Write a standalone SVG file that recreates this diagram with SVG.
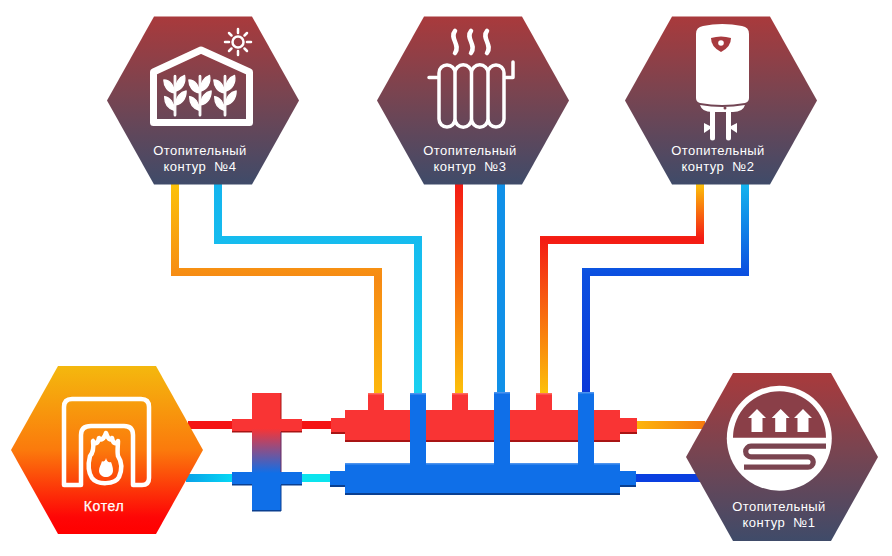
<svg xmlns="http://www.w3.org/2000/svg" width="892" height="556" viewBox="0 0 892 556">
<style>
.t{font-family:"Liberation Sans",Arial,sans-serif;font-size:13px;fill:#fff;text-anchor:middle;letter-spacing:.45px}
.w{fill:none;stroke:#fff;stroke-linejoin:round;stroke-linecap:round}
.r{fill:#f93434}.b{fill:#0f6fe8}
.rs{fill:#a81414}.bs{fill:#0a3f90}.rh{fill:#ff6a5e}.bh{fill:#4c93ee}
.p{fill:none;stroke-width:8}
</style>
<defs>
<linearGradient id="hex" x1="0" y1="0" x2="0" y2="1"><stop offset="0" stop-color="#a93a3c"/><stop offset=".45" stop-color="#7a4450"/><stop offset="1" stop-color="#3f4b69"/></linearGradient>
<linearGradient id="fire" x1="0" y1="0" x2="0" y2="1"><stop offset="0" stop-color="#f4b80e"/><stop offset=".5" stop-color="#fb7a0c"/><stop offset=".9" stop-color="#fe0606"/><stop offset="1" stop-color="#ff0000"/></linearGradient>
<linearGradient id="cross" x1="0" y1="393" x2="0" y2="511" gradientUnits="userSpaceOnUse"><stop offset=".3" stop-color="#f93434"/><stop offset=".68" stop-color="#0f6fe8"/></linearGradient>
<linearGradient id="g4a" gradientUnits="userSpaceOnUse" x1="0" y1="184" x2="0" y2="395"><stop offset="0" stop-color="#fcc20a"/><stop offset=".45" stop-color="#f68a14"/><stop offset="1" stop-color="#fdb80c"/></linearGradient>
<linearGradient id="g4b" gradientUnits="userSpaceOnUse" x1="0" y1="184" x2="0" y2="395"><stop offset="0" stop-color="#14b4ee"/><stop offset="1" stop-color="#1ad0f0"/></linearGradient>
<linearGradient id="g3a" gradientUnits="userSpaceOnUse" x1="0" y1="184" x2="0" y2="395"><stop offset="0" stop-color="#f41a14"/><stop offset="1" stop-color="#fcc20a"/></linearGradient>
<linearGradient id="g3b" gradientUnits="userSpaceOnUse" x1="0" y1="184" x2="0" y2="395"><stop offset="0" stop-color="#1090e8"/><stop offset="1" stop-color="#1090e8"/></linearGradient>
<linearGradient id="g2a" gradientUnits="userSpaceOnUse" x1="0" y1="184" x2="0" y2="395"><stop offset="0" stop-color="#fcc20a"/><stop offset=".26" stop-color="#f41a14"/><stop offset="1" stop-color="#fcc20a"/></linearGradient>
<linearGradient id="g2b" gradientUnits="userSpaceOnUse" x1="0" y1="184" x2="0" y2="395"><stop offset="0" stop-color="#14b4ee"/><stop offset=".42" stop-color="#0c50e0"/><stop offset="1" stop-color="#0a38d8"/></linearGradient>
<linearGradient id="gor" gradientUnits="userSpaceOnUse" x1="637" y1="0" x2="705" y2="0"><stop offset="0" stop-color="#fdb50c"/><stop offset="1" stop-color="#f57a10"/></linearGradient>
<linearGradient id="gcy" gradientUnits="userSpaceOnUse" x1="186" y1="0" x2="232" y2="0"><stop offset="0" stop-color="#0aa0e8"/><stop offset="1" stop-color="#06d8f4"/></linearGradient>
<path id="hx" d="M-49-84H49L96 0 49 84H-49L-96 0Z"/>
<g id="plant" fill="#fff" stroke="#fff" stroke-width="1.500" stroke-linejoin="round"><rect x="-1" y="-30" width="2" height="44" rx="1"/><path d="M1-13C0-22 5-28 12-30 14-22 9-15 1-13Z"/><path d="M-1-11C-9-12-14-18-14-25-6-25-1-19-1-11Z"/><path d="M1 2C1-7 7-12 14-13 14-5 9 1 1 2Z"/><path d="M-1 8C-9 6-13 0-13-7-6-6-1 0-1 8Z"/></g>
<path id="ar" d="M0-11.500 9-2.500H5.500V11.500H-5.500V-2.500H-9Z" fill="#fff"/>
<path id="st" d="M0 0C-6 7 6 14 0 22" fill="none" stroke="#fff" stroke-width="4.500" stroke-linecap="round"/>
</defs>
<g id="connectors">
<path class="p" stroke="url(#g4a)" d="M175 184V272H378V395"/>
<path class="p" stroke="url(#g4b)" d="M218 184V240H418V395"/>
<path class="p" stroke="url(#g3a)" d="M459 184V395"/>
<path class="p" stroke="url(#g3b)" d="M501 184V395"/>
<path class="p" stroke="url(#g2a)" d="M700 184V240H544V395"/>
<path class="p" stroke="url(#g2b)" d="M745 184V272H586V395"/>
<path class="p" stroke="#f41414" d="M188 425H232M302 425H331"/>
<path class="p" stroke="url(#gcy)" d="M186 478H232"/>
<path class="p" stroke="#0ce4ee" d="M302 478H330"/>
<path class="p" stroke="url(#gor)" d="M637 425H705"/>
<path class="p" stroke="#0a3fe0" d="M636 478H700"/>
</g>
<g id="cross">
<rect x="232" y="419" width="70" height="13" fill="#f93434"/><rect x="232" y="431" width="70" height="1.500" fill="#a81414"/>
<rect x="232" y="472" width="70" height="13" fill="#0f6fe8"/><rect x="232" y="484" width="70" height="1.500" fill="#0a3f90"/>
<rect x="252" y="393" width="29" height="118" fill="url(#cross)"/>
<rect x="280.500" y="393" width="1" height="26" fill="#a81414"/><rect x="280.500" y="432" width="1" height="40" fill="#6a2a60"/><rect x="280.500" y="485" width="1" height="26" fill="#0a3f90"/>
<rect x="252" y="510" width="29" height="1.500" fill="#0a3f90"/>
</g>
<g id="manifold-hot">
<rect class="r" x="331" y="418" width="20" height="15"/><rect class="rs" x="331" y="432" width="20" height="2"/>
<rect class="r" x="615" y="418" width="22" height="15"/><rect class="rs" x="615" y="432" width="22" height="2"/>
<rect class="r" x="368" y="393" width="16" height="20"/><rect class="r" x="452" y="393" width="16" height="20"/><rect class="r" x="536" y="393" width="16" height="20"/>
<rect class="rh" x="368" y="393" width="16" height="1.500"/><rect class="rh" x="452" y="393" width="16" height="1.500"/><rect class="rh" x="536" y="393" width="16" height="1.500"/>
<rect class="r" x="345" y="410" width="275" height="31"/><rect class="rs" x="345" y="440" width="275" height="2"/>
</g>
<g id="manifold-cold">
<rect class="b" x="330" y="471" width="20" height="15"/><rect class="bs" x="330" y="485" width="20" height="2"/>
<rect class="b" x="615" y="471" width="21" height="15"/><rect class="bs" x="615" y="485" width="21" height="2"/>
<rect class="b" x="345" y="463" width="275" height="31"/><rect class="bh" x="345" y="463" width="275" height="1.500"/><rect class="bs" x="345" y="493" width="275" height="2"/>
<rect class="b" x="410" y="393" width="16" height="75"/><rect class="b" x="494" y="392" width="16" height="76"/><rect class="b" x="578" y="392" width="16" height="76"/>
<rect class="bh" x="410" y="393" width="16" height="1.500"/><rect class="bh" x="494" y="392" width="16" height="1.500"/><rect class="bh" x="578" y="392" width="16" height="1.500"/>
</g>
<g id="node-4">
<use href="#hx" x="203" y="100.500" fill="url(#hex)"/>
<path class="w" stroke-width="7" d="M153.500 72 201 50 249.500 72V122.500H153.500Z"/>
<use href="#plant" transform="translate(175 103) scale(.8 .92)"/><use href="#plant" transform="translate(200 103) scale(.8 .92)"/><use href="#plant" transform="translate(225 103) scale(.8 .92)"/>
<circle class="w" cx="238" cy="42" r="5.500" stroke-width="2.500"/>
<path class="w" stroke-width="2.500" d="M238 29V33M238 51V55M225 42H229M247 42H251M229 33 231.500 35.500M247 33 244.500 35.500M229 51 231.500 48.500M247 51 244.500 48.500"/>
<text class="t" x="200" y="155">Отопительный</text><text class="t" x="200" y="171" xml:space="preserve">контур  №4</text>
</g>
<g id="node-3">
<use href="#hx" x="473" y="100.500" fill="url(#hex)"/>
<path class="w" stroke-width="3.500" d="M429 77.500H439M504 77.500H513V62M439 73A8 8 0 0 1 455 73V119A8 8 0 0 1 439 119ZM455 73A8.250 8.250 0 0 1 471.500 73V119A8.250 8.250 0 0 1 455 119ZM471.500 73A8.250 8.250 0 0 1 488 73V119A8.250 8.250 0 0 1 471.500 119ZM488 73A8 8 0 0 1 504 73V119A8 8 0 0 1 488 119Z"/>
<use href="#st" x="455" y="31"/><use href="#st" x="471" y="31"/><use href="#st" x="487" y="31"/>
<text class="t" x="470" y="155">Отопительный</text><text class="t" x="470" y="171" xml:space="preserve">контур  №3</text>
</g>
<g id="node-2">
<use href="#hx" x="721" y="100.500" fill="url(#hex)"/>
<path fill="#fff" d="M696 34Q696 27 703 26 722 22 742 26 749 27 749 34V98Q749 102 745 103 722 107 700 103 696 102 696 98Z"/>
<path fill="#a83a3e" d="M711 38Q721 35 731 38 731 47 721 52 711 47 711 38Z"/><circle cx="721" cy="43" r="2.800" fill="#fff"/>
<path fill="#fff" d="M700 105Q722 109 745 105 743 112 733 112H712Q702 112 700 105Z"/>
<circle cx="725" cy="108" r="1.500" fill="#7a4450"/>
<path class="w" stroke-width="5" stroke-linecap="butt" d="M712.500 111V138M728.500 111V138"/>
<path fill="#fff" d="M704 123 710 126V129L704 133ZM737 123 731 126V129L737 133Z"/>
<text class="t" x="718" y="155">Отопительный</text><text class="t" x="718" y="171" xml:space="preserve">контур  №2</text>
</g>
<g id="node-boiler">
<use href="#hx" x="107" y="450" fill="url(#fire)"/>
<path class="w" stroke-width="4.500" d="M64 485V407Q64 399 72 399H141Q149 399 149 407V478Q149 485 142 485H133V435Q133 426 124 426H91Q81 426 81 435V485Z"/>
<path class="w" stroke-width="4.500" d="M106 433C104 439 101 441 99 438 98 443 96 445 93 441 94 449 93 453 90 456 88 464 88 472 92 478 97 485 115 485 119 477 122 470 122 462 118 456 117 451 118 446 118 441 115 445 113 443 112 438 110 441 108 439 106 433Z"/>
<path fill="#fff" d="M106 458C105 462 103 462 102 461 101 465 99 467 99 471 100 479 112 479 113 471 113 467 112 465 111 462 109 463 107 462 106 458Z"/>
<text class="t" x="104" y="511" style="font-size:14px;letter-spacing:.6px;stroke:#fff;stroke-width:.25px">Котел</text>
</g>
<g id="node-1">
<use href="#hx" x="782" y="457" fill="url(#hex)"/>
<circle cx="779.300" cy="438.300" r="52.500" fill="#fff"/>
<path fill="#8a3f48" d="M733 437.700A46.500 46.500 0 0 1 826 437.700Z"/>
<use href="#ar" x="757" y="420.500"/><use href="#ar" x="780.700" y="420.500"/><use href="#ar" x="803" y="420.500"/>
<path fill="none" stroke="#7a4450" stroke-width="5.300" d="M826 446.200H751A5.300 5.300 0 0 0 751 456.800H808A5.200 5.200 0 0 1 808 467.200H744"/>
<text class="t" x="779" y="511">Отопительный</text><text class="t" x="779" y="527" xml:space="preserve">контур  №1</text>
</g>
</svg>
